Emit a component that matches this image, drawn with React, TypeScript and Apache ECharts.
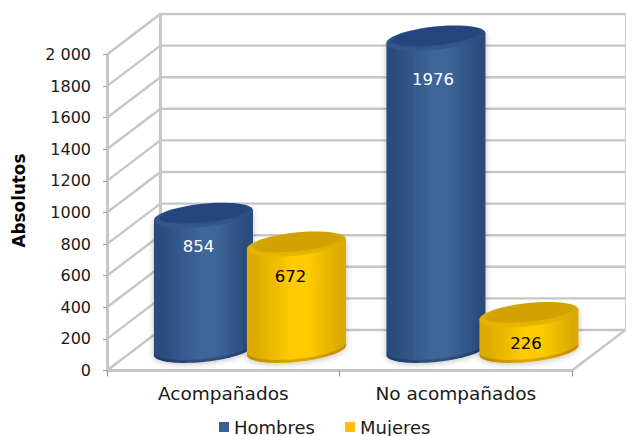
import React, { useEffect, useRef } from "react";
import * as echarts from "echarts";

const categories = ["Acompañados", "No acompañados"];
const seriesNames = ["Hombres", "Mujeres"];
const hombres = [854, 1976];
const mujeres = [672, 226];
const yTicks = [0, 200, 400, 600, 800, 1000, 1200, 1400, 1600, 1800, 2000];

const FONT = "DejaVu Sans";
const DEPTH_X = 53.4;
const DEPTH_Y = -40.5;
const BAR_SHIFT = 46.5;
const RX = 49.8;
const RY = 11.6;
const TILT = (-6 * Math.PI) / 180;
const LINE = "#c6c6c6";

const palette = [
  { legend: "#3a6296", edge: "#2a4c7c", mid: "#3c6699", capOuter: "#35598c", capInner: "#25457f", rim: "rgba(10,30,70,0.3)", text: "#ffffff" },
  { legend: "#ffc000", edge: "#dcaa00", mid: "#ffcb00", capOuter: "#e8b800", capInner: "#d2a200", rim: "rgba(130,80,0,0.3)", text: "#000000" },
];
const labelDrop: Record<string, number> = { "854": 31, "672": 32, "1976": 41, "226": 29 };
const labelShift: Record<string, number> = { "854": -5, "672": -6, "1976": -3, "226": -3 };

function ellipsePoint(cx: number, cy: number, a: number, b: number, t: number) {
  return [
    cx + a * Math.cos(t) * Math.cos(TILT) - b * Math.sin(t) * Math.sin(TILT),
    cy + a * Math.cos(t) * Math.sin(TILT) + b * Math.sin(t) * Math.cos(TILT),
  ];
}
function ellipseArc(cx: number, cy: number, a: number, b: number, from: number, to: number, n = 48) {
  const pts: number[][] = [];
  for (let i = 0; i <= n; i++) pts.push(ellipsePoint(cx, cy, a, b, from + ((to - from) * i) / n));
  return pts;
}

function cylinderItem(seriesIndex: number) {
  return (_p: any, api: any) => {
    const cat = api.value(0);
    const val = api.value(1);
    const c = palette[seriesIndex];
    const base = api.coord([cat, 0]);
    const top = api.coord([cat, val]);
    const cx = base[0] + DEPTH_X / 2 + (seriesIndex === 0 ? -BAR_SHIFT : BAR_SHIFT);
    const by = base[1] + DEPTH_Y / 2;
    const ty = top[1] + DEPTH_Y / 2;
    const t0 = Math.atan2(-RY * Math.sin(TILT), RX * Math.cos(TILT));
    const bottomArc = ellipseArc(cx, by, RX, RY, t0, t0 + Math.PI);
    const innerArc = ellipseArc(cx, by - 3, RX, RY, t0, t0 + Math.PI).reverse();
    const topL = ellipsePoint(cx, ty, RX, RY, t0 + Math.PI);
    const topR = ellipsePoint(cx, ty, RX, RY, t0);
    const bodyFill = new echarts.graphic.LinearGradient(0, 0, 1, 0, [
      { offset: 0, color: c.edge },
      { offset: 0.08, color: c.edge },
      { offset: 0.45, color: c.mid },
      { offset: 0.62, color: c.mid },
      { offset: 0.94, color: c.edge },
      { offset: 1, color: c.edge },
    ]);
    const capFill = new echarts.graphic.LinearGradient(0, 0, 0, 1, [
      { offset: 0, color: c.capInner },
      { offset: 1, color: c.capOuter },
    ]);
    const text = String(val);
    return {
      type: "group",
      children: [
        {
          type: "polygon",
          shape: { points: [topR, ...bottomArc, topL] },
          style: { fill: bodyFill, shadowBlur: 6, shadowColor: "rgba(0,0,0,0.25)", shadowOffsetY: 1 },
        },
        {
          type: "polygon",
          shape: { points: [...bottomArc, ...innerArc] },
          style: { fill: c.rim },
        },
        {
          type: "polygon",
          shape: { points: ellipseArc(cx, ty, RX, RY, 0, Math.PI * 2) },
          style: { fill: capFill },
        },
        {
          type: "polygon",
          shape: { points: ellipseArc(cx, ty - 1.5, RX - 6, RY - 3, 0, Math.PI * 2) },
          style: { fill: c.capInner },
        },
        {
          type: "text",
          x: cx + (labelShift[text] ?? 0),
          y: ty + (labelDrop[text] ?? 31),
          style: { text, fill: c.text, font: `16.5px "${FONT}"`, align: "center", verticalAlign: "middle" },
        },
      ],
    };
  };
}

function wallItem(_p: any, api: any) {
  const v = api.value(0);
  const front = api.coord([0, v]);
  const leftX = front[0] - api.size([1, 0])[0] / 2;
  const rightX = leftX + api.size([1, 0])[0] * categories.length;
  const y = front[1];
  const lineStyle = { stroke: LINE, lineWidth: 2.4, fill: "none" };
  const kids: any[] = [
    {
      type: "polyline",
      shape: { points: [[leftX, y], [leftX + DEPTH_X, y + DEPTH_Y], [rightX + DEPTH_X, y + DEPTH_Y]] },
      style: lineStyle,
    },
  ];
  if (v === 0) {
    const yTop = api.coord([0, yTicks[yTicks.length - 1]])[1] + DEPTH_Y;
    kids.push(
      { type: "line", shape: { x1: leftX + DEPTH_X, y1: y + DEPTH_Y, x2: leftX + DEPTH_X, y2: yTop }, style: { stroke: LINE, lineWidth: 3 } },
      { type: "line", shape: { x1: rightX + DEPTH_X, y1: y + DEPTH_Y, x2: rightX + DEPTH_X, y2: yTop }, style: { stroke: LINE, lineWidth: 1 } },
      { type: "line", shape: { x1: rightX, y1: y, x2: rightX + DEPTH_X, y2: y + DEPTH_Y }, style: lineStyle },
    );
  }
  return { type: "group", children: kids };
}

export default function App() {
  const ref = useRef<HTMLDivElement>(null);
  useEffect(() => {
    const chart = echarts.init(ref.current!, null, { renderer: "svg" });
    chart.setOption({
      animation: false,
      backgroundColor: "#ffffff",
      textStyle: { fontFamily: FONT },
      grid: { left: 107, right: 54, top: 54.5, bottom: 65.5 },
      legend: {
        data: seriesNames,
        left: 219,
        top: 418,
        padding: 0,
        icon: "rect",
        itemWidth: 10,
        itemHeight: 10,
        itemGap: 30,
        textStyle: { fontFamily: FONT, fontSize: 18, color: "#1a1a1a", padding: [0, 0, 0, 0] },
      },
      xAxis: {
        type: "category",
        data: categories,
        axisLine: { lineStyle: { color: LINE, width: 3 } },
        axisTick: { show: true, length: 6, lineStyle: { color: "#8c8c8c", width: 1 } },
        axisLabel: { color: "#1a1a1a", fontSize: 18.5, fontFamily: FONT, margin: 13 },
      },
      yAxis: {
        type: "value",
        min: 0,
        max: 2000,
        interval: 200,
        name: "Absolutos",
        nameLocation: "middle",
        nameGap: 80,
        nameTextStyle: { color: "#000", fontWeight: "bold", fontSize: 16.8, fontFamily: FONT, padding: [0, 0, 0, 24] },
        splitLine: { show: false },
        axisLine: { show: true, lineStyle: { color: LINE, width: 3 } },
        axisTick: { show: true, length: 4, lineStyle: { color: "#a0a0a0", width: 1 } },
        axisLabel: {
          color: "#1a1a1a",
          fontSize: 16,
          fontFamily: FONT,
          margin: 16,
          formatter: (v: number) => (v >= 2000 ? "2 000" : String(v)),
        },
      },
      series: [
        {
          type: "custom",
          id: "walls",
          coordinateSystem: "cartesian2d",
          data: yTicks.map((v) => [v]),
          encode: { y: 0 },
          renderItem: wallItem,
          silent: true,
          z: 1,
        },
        {
          type: "custom",
          name: seriesNames[0],
          coordinateSystem: "cartesian2d",
          itemStyle: { color: palette[0].legend },
          data: hombres.map((v, i) => [i, v]),
          encode: { x: 0, y: 1 },
          renderItem: cylinderItem(0),
          z: 2,
        },
        {
          type: "custom",
          name: seriesNames[1],
          coordinateSystem: "cartesian2d",
          itemStyle: { color: palette[1].legend },
          data: mujeres.map((v, i) => [i, v]),
          encode: { x: 0, y: 1 },
          renderItem: cylinderItem(1),
          z: 3,
        },
      ],
    });
    return () => chart.dispose();
  }, []);
  return <div ref={ref} style={{ position: "absolute", left: 0, top: 0, width: 626, height: 436 }} />;
}
